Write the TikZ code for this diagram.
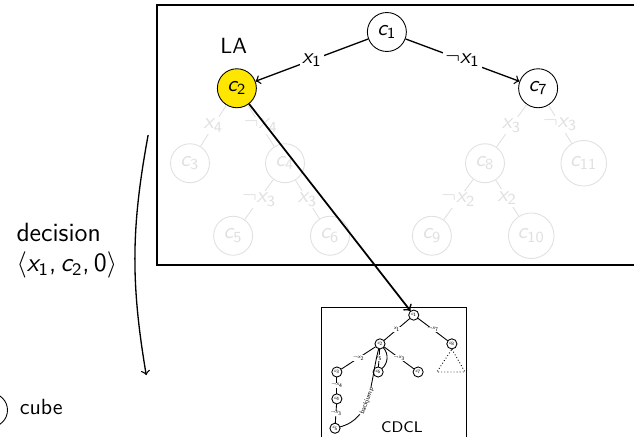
\documentclass[tikz,border=0pt]{standalone}
\renewcommand{\familydefault}{\sfdefault}
\DeclareMathVersion{sans}
\SetSymbolFont{operators}{sans}{OT1}{cmss}{m}{n}
\SetSymbolFont{letters}{sans}{OT1}{cmss}{m}{sl}
\AtBeginDocument{\mathversion{sans}\mathcode`\,="602C}
\usetikzlibrary{arrows}

\definecolor{layellow}{RGB}{255,230,0}
\definecolor{faded}{gray}{0.88}

\tikzset{
	cubenode/.style={draw, circle, inner sep=2.6pt, minimum size=0.58cm},
	fadednode/.style={cubenode, draw=faded, text=faded},
	lit/.style={fill=white, inner sep=1pt},
	minicube/.style={draw, circle, inner sep=0.8pt, minimum size=0.36cm, font=\tiny, scale=0.45},
	minilit/.style={fill=white, inner sep=0.5pt, font=\tiny, scale=0.5},
}

\begin{document}
\begin{tikzpicture}
		%%%%% START %%%%%
		\useasboundingbox (0, 0) rectangle (10.144, 6.992);
		\clip (0, 0) rectangle (10.144, 6.992);
		
		% look-ahead frame
		\draw[thick] (2.51, 2.75) rectangle (10.5, 6.91);
		
		\node[cubenode] (c1) at (6.19, 6.48) {$c_1$};
		\node[cubenode, fill=layellow] (c2) at (3.79, 5.58) {$c_2$};
		\node[cubenode] (c7) at (8.61, 5.58) {$c_7$};
		\node (la) at (3.74, 6.26) {LA};
		
		\node[fadednode] (c3) at (3.04, 4.38) {$c_3$};
		\node[fadednode] (c4) at (4.56, 4.38) {$c_4$};
		\node[fadednode] (c8) at (7.76, 4.38) {$c_8$};
		\node[fadednode] (c11) at (9.34, 4.38) {$c_{11}$};
		\node[fadednode] (c5) at (3.73, 3.22) {$c_5$};
		\node[fadednode] (c6) at (5.28, 3.22) {$c_6$};
		\node[fadednode] (c9) at (6.91, 3.22) {$c_9$};
		\node[fadednode] (c10) at (8.50, 3.22) {$c_{10}$};
		
		\draw[->, semithick] (c1) -- node[lit] {$x_1$} (c2);
		\draw[->, semithick] (c1) -- node[lit] {$\neg x_1$} (c7);
		
		\begin{scope}[faded, every node/.style={lit, text=faded}]
			\draw (c2) -- node {$x_4$} (c3);
			\draw (c2) -- node {$\neg x_4$} (c4);
			\draw (c4) -- node {$\neg x_3$} (c5);
			\draw (c4) -- node {$x_3$} (c6);
			\draw (c7) -- node {$x_3$} (c8);
			\draw (c7) -- node {$\neg x_3$} (c11);
			\draw (c8) -- node {$\neg x_2$} (c9);
			\draw (c8) -- node {$x_2$} (c10);
		\end{scope}
		
		% CDCL solver tree
		\draw (5.15, -0.2) rectangle (7.47, 2.08);
		\node[minicube] (s1) at (6.62, 1.95) {$c_1$};
		\node[minicube] (s2) at (6.08, 1.49) {$c_2$};
		\node[minicube] (s8) at (7.23, 1.49) {$c_8$};
		\node[minicube] (s3) at (5.39, 1.04) {$c_3$};
		\node[minicube] (s6) at (6.05, 1.04) {$c_6$};
		\node[minicube] (s7) at (6.69, 1.04) {$c_7$};
		\node[minicube] (s4) at (5.39, 0.61) {$c_4$};
		\node[minicube] (s5) at (5.36, 0.14) {$c_5$};
		\node[font=\scriptsize] (cdcl) at (6.43, 0.16) {CDCL};
		
		\draw (s1) -- node[minilit] {$x_1$} (s2);
		\draw (s1) -- node[minilit] {$\neg x_7$} (s8);
		\draw (s2) -- node[minilit] {$\neg x_2$} (s3);
		\draw (s2) -- node[minilit] {$x_5$} (s6);
		\draw (s2) -- node[minilit] {$\neg x_3$} (s7);
		\draw (s3) -- node[minilit] {$\neg x_4$} (s4);
		\draw (s4) -- node[minilit] {$\neg x_3$} (s5);
		\draw (s2) to[bend left=45] (s6);
		\draw (s5) to[out=15, in=255] node[minilit, sloped, pos=0.45, scale=1.2] {backjump} (s2);
		\draw[densely dotted] (s8.south) -- (7.44, 1.04) -- (6.99, 1.04) -- cycle;
		
		\draw[->, thick] (c2) -- (s1);
		
		% decision arrow
		\coordinate (dtop) at (2.37, 4.83);
		\coordinate (dbot) at (2.34, 0.99);
		\draw[->, semithick] (dtop) to[bend right=10] (dbot);
		\node[anchor=west, align=left, font=\large] (dec) at (0.14, 2.98) {decision\\$\langle x_1, c_2, 0\rangle$};
		
		% legend
		\node[cubenode, minimum size=0.54cm] (leg) at (-0.15, 0.43) {};
		\node (legtext) at (0.66, 0.48) {cube};
		%%%%% END %%%%%
\end{tikzpicture}
\end{document}
